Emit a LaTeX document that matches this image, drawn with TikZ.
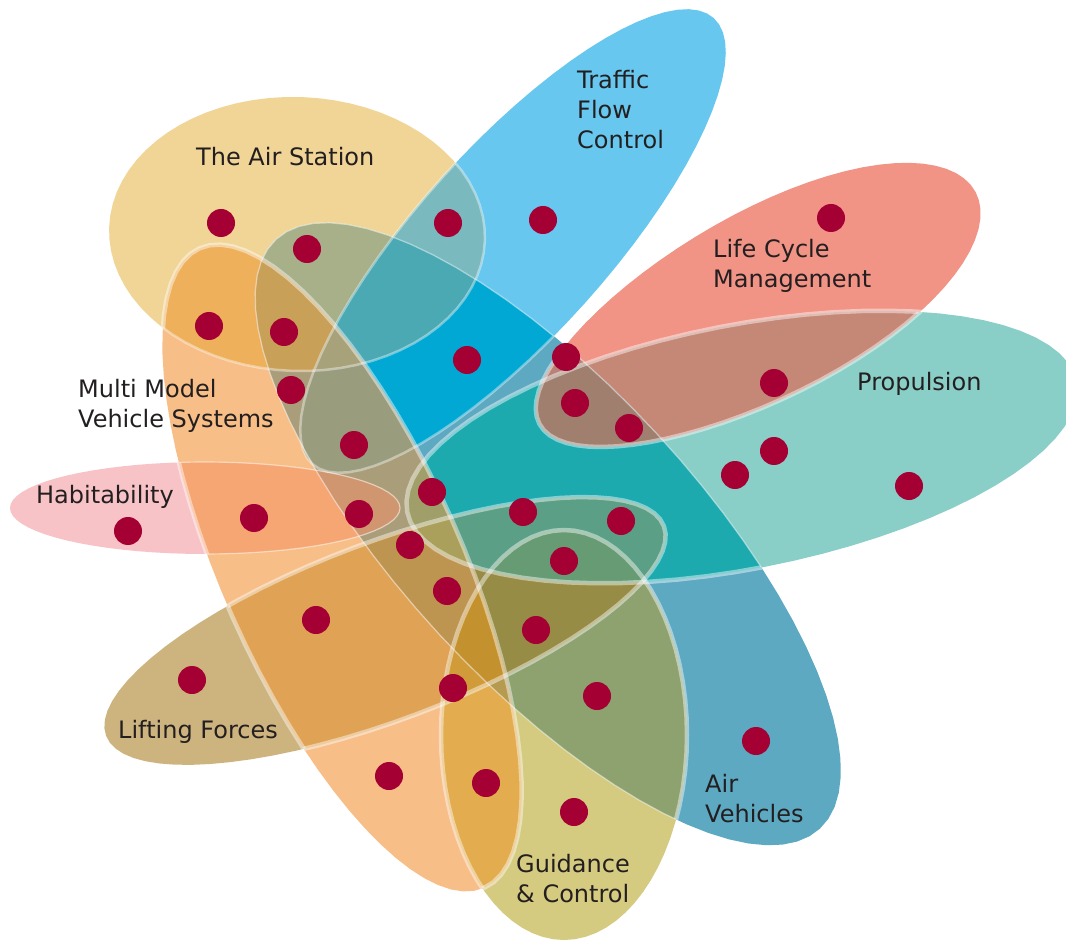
\documentclass[tikz,border=0pt]{standalone}
\usepackage{fontspec}
\setmainfont{DejaVu Sans}
% single areas
\definecolor{cAS}{HTML}{F0D596}
\definecolor{cTF}{HTML}{67C7EE}
\definecolor{cLC}{HTML}{F19385}
\definecolor{cPR}{HTML}{8ACFC7}
\definecolor{cAV}{HTML}{5DA9C2}
\definecolor{cHB}{HTML}{F8C3C6}
\definecolor{cMM}{HTML}{F8BE87}
\definecolor{cLF}{HTML}{CDB47F}
\definecolor{cGC}{HTML}{D5CB80}
% overlaps
\definecolor{oASTF}{HTML}{7AB9BD}
\definecolor{oASAV}{HTML}{A7B089}
\definecolor{oASMM}{HTML}{EEB05B}
\definecolor{oTFAV}{HTML}{00A8D3}
\definecolor{oTFMM}{HTML}{9A9C7E}
\definecolor{oTFPR}{HTML}{00A1BE}
\definecolor{oLCPR}{HTML}{C58877}
\definecolor{oLCAV}{HTML}{B98276}
\definecolor{oPRAV}{HTML}{1CAAAF}
\definecolor{oPRLF}{HTML}{5B9F86}
\definecolor{oPRGC}{HTML}{5C9F7F}
\definecolor{oPRMM}{HTML}{A09E69}
\definecolor{oAVMM}{HTML}{AA9E7A}
\definecolor{oAVHB}{HTML}{CF9670}
\definecolor{oAVLF}{HTML}{978C45}
\definecolor{oAVGC}{HTML}{8DA26F}
\definecolor{oHBMM}{HTML}{F5A673}
\definecolor{oHBLF}{HTML}{C9905F}
\definecolor{oMMLF}{HTML}{E0A356}
\definecolor{oMMGC}{HTML}{E3AC4E}
\definecolor{oLFGC}{HTML}{978C45}
\definecolor{oASTFAV}{HTML}{4BA9B4}
\definecolor{oASMMAV}{HTML}{C9A058}
\definecolor{oASTFMM}{HTML}{A8A27A}
\definecolor{oTFAVPR}{HTML}{009FB5}
\definecolor{oMMAVLF}{HTML}{BE9550}
\definecolor{oPRAVLF}{HTML}{5B9F86}
\definecolor{oMMLFGC}{HTML}{D29B3A}
\definecolor{oMMAVGC}{HTML}{B69A50}
\definecolor{oLCPRAV}{HTML}{A07F6F}
\definecolor{oPRAVGC}{HTML}{5FA27A}
\definecolor{oPRAVLFGC}{HTML}{679B73}
\definecolor{oMMLFGCAV}{HTML}{C4912F}
\definecolor{oPRAVMMLF}{HTML}{ABA05B}
\definecolor{oHBMMAVLF}{HTML}{C0905A}
\definecolor{dotred}{HTML}{A50034}
\definecolor{ink}{HTML}{231F20}
% a closed oval: centre x, centre y, tilt, half length, half width, egg factor
\newcommand\eggpath[6]{plot[domain=0:360,samples=73,variable=\t]
  ({#1+#4*cos(\t)*cos(#3)-#5*sin(\t)*(1+#6*cos(\t))*sin(#3)},
   {#2-#4*cos(\t)*sin(#3)-#5*sin(\t)*(1+#6*cos(\t))*cos(#3)}) -- cycle}
% overlap helpers
\newcommand\ovl[3]{\begin{scope}\clip #1; \fill[#3] #2;\end{scope}}
\newcommand\ovlt[4]{\begin{scope}\clip #1; \clip #2; \fill[#4] #3;\end{scope}}
\newcommand\ovlq[5]{\begin{scope}\clip #1; \clip #2; \clip #3; \fill[#5] #4;\end{scope}}
% a rim, shown only where it runs over other ovals
\newcommand\rimover[3]{\begin{scope}\clip #3; \draw[#1] #2;\end{scope}}
\begin{document}
\begin{tikzpicture}[x=1pt,y=-1pt,line join=round,
  lbl/.style={anchor=base west, inner sep=0pt, text=ink, font=\fontsize{24}{30}\selectfont},
  rimthick/.style={draw=white, draw opacity=.45, line width=4.5pt},
  rimmid/.style={draw=white, draw opacity=.4, line width=2.5pt},
  rimthin/.style={draw=white, draw opacity=.5, line width=1.2pt}]
\useasboundingbox (0,0) rectangle (1066,941);
\fill[white] (0,0) rectangle (1066,941);
\clip (0,0) rectangle (1066,941);

\def\shAS{\eggpath{297}{234}{-2}{188}{137}{0}}
\def\shTF{\eggpath{513}{241}{48}{300}{95}{0}}
\def\shLC{\eggpath{757.5}{308}{28}{247}{93}{0.08}}
\def\shPR{\eggpath{742}{447}{11}{341}{122}{0}}
\def\shAV{\eggpath{548}{534}{-47.3}{401}{148}{0}}
\def\shHB{\eggpath{205}{508}{0}{195}{46}{0}}
\def\shMM{\eggpath{342}{568}{-66}{350}{120}{0}}
\def\shLF{\eggpath{385}{631}{20.6}{298}{89}{0}}
\def\shGC{\eggpath{564}{735}{90}{205}{123}{0}}

% single areas
\fill[cAS] \shAS; \fill[cTF] \shTF; \fill[cLC] \shLC; \fill[cPR] \shPR;
\fill[cAV] \shAV; \fill[cHB] \shHB; \fill[cMM] \shMM; \fill[cLF] \shLF; \fill[cGC] \shGC;

% two-way overlaps
\ovl{\shAS}{\shTF}{oASTF}
\ovl{\shAS}{\shAV}{oASAV}
\ovl{\shAS}{\shMM}{oASMM}
\ovl{\shTF}{\shAV}{oTFAV}
\ovl{\shTF}{\shMM}{oTFMM}
\ovl{\shTF}{\shPR}{oTFPR}
\ovl{\shLC}{\shPR}{oLCPR}
\ovl{\shLC}{\shAV}{oLCAV}
\ovl{\shPR}{\shAV}{oPRAV}
\ovl{\shPR}{\shLF}{oPRLF}
\ovl{\shPR}{\shGC}{oPRGC}
\ovl{\shPR}{\shMM}{oPRMM}
\ovl{\shAV}{\shMM}{oAVMM}
\ovl{\shAV}{\shHB}{oAVHB}
\ovl{\shAV}{\shLF}{oAVLF}
\ovl{\shAV}{\shGC}{oAVGC}
\ovl{\shHB}{\shMM}{oHBMM}
\ovl{\shHB}{\shLF}{oHBLF}
\ovl{\shMM}{\shLF}{oMMLF}
\ovl{\shMM}{\shGC}{oMMGC}
\ovl{\shLF}{\shGC}{oLFGC}

% three-way overlaps
\ovlt{\shAS}{\shTF}{\shAV}{oASTFAV}
\ovlt{\shAS}{\shMM}{\shAV}{oASMMAV}
\ovlt{\shAS}{\shTF}{\shMM}{oASTFMM}
\ovlt{\shTF}{\shAV}{\shMM}{oTFMM}
\ovlt{\shTF}{\shAV}{\shPR}{oTFAVPR}
\ovlt{\shHB}{\shMM}{\shAV}{oAVHB}
\ovlt{\shMM}{\shAV}{\shLF}{oMMAVLF}
\ovlt{\shMM}{\shAV}{\shPR}{oPRMM}
\ovlt{\shPR}{\shAV}{\shLF}{oPRAVLF}
\ovlt{\shLF}{\shAV}{\shGC}{oAVLF}
\ovlt{\shMM}{\shLF}{\shGC}{oMMLFGC}
\ovlt{\shMM}{\shAV}{\shGC}{oMMAVGC}
\ovlt{\shLC}{\shPR}{\shAV}{oLCPRAV}
\ovlt{\shPR}{\shAV}{\shGC}{oPRAVGC}

% four-way overlaps
\ovlq{\shPR}{\shAV}{\shLF}{\shGC}{oPRAVLFGC}
\ovlq{\shMM}{\shLF}{\shGC}{\shAV}{oMMLFGCAV}
\ovlq{\shPR}{\shAV}{\shMM}{\shLF}{oPRAVMMLF}
\ovlq{\shAS}{\shTF}{\shAV}{\shMM}{oASTFMM}
\ovlq{\shHB}{\shMM}{\shAV}{\shLF}{oHBMMAVLF}

% rims where ovals cross
\rimover{rimmid}{\shAS}{\shTF \shAV \shMM}
\rimover{rimmid}{\shTF}{\shAS \shAV \shMM \shPR}
\rimover{rimthin}{\shAV}{\shAS \shTF \shLC \shPR \shHB \shMM \shLF \shGC}
\rimover{rimthin}{\shHB}{\shAV \shMM \shLF}
\rimover{rimthick}{\shLC}{\shPR \shAV}
\rimover{rimthick}{\shPR}{\shTF \shLC \shAV \shMM \shLF \shGC}
\rimover{rimthick}{\shMM}{\shAS \shTF \shPR \shAV \shHB \shLF \shGC}
\rimover{rimthick}{\shLF}{\shPR \shAV \shHB \shMM \shGC}
\rimover{rimthick}{\shGC}{\shPR \shAV \shMM \shLF}

% dots
\foreach \x/\y in {221/223, 307/249, 448/223, 543/220, 831/218, 209/326, 284/332,
  467/360, 566/357, 291/390, 774/383, 575/403, 629/428, 354/445, 774/451,
  735/475, 909/486, 128/531, 254/518, 359/514, 432/492, 523/512, 621/521,
  410/545, 564/561, 447/591, 316/620, 536/630, 192/680, 453/688, 597/696,
  756/741, 389/776, 486/783, 574/812}
  \fill[dotred] (\x,\y) circle[radius=14];

% labels
\node[lbl] (as1) at (196,166) {The Air Station};
\node[lbl] (tf1) at (577,89) {Traffic};
\node[lbl] (tf2) at (577,119) {Flow};
\node[lbl] (tf3) at (577,149) {Control};
\node[lbl] (lc1) at (713,258) {Life Cycle};
\node[lbl] (lc2) at (713,288) {Management};
\node[lbl] (pr1) at (857,390) {Propulsion};
\node[lbl] (mm1) at (78,397) {Multi Model};
\node[lbl] (mm2) at (78,427) {Vehicle Systems};
\node[lbl] (hb1) at (36,503) {Habitability};
\node[lbl] (lf1) at (118,738) {Lifting Forces};
\node[lbl] (gc1) at (516,872) {Guidance};
\node[lbl] (gc2) at (516,902) {\& Control};
\node[lbl] (av1) at (705,792) {Air};
\node[lbl] (av2) at (705,822) {Vehicles};
\end{tikzpicture}
\end{document}
